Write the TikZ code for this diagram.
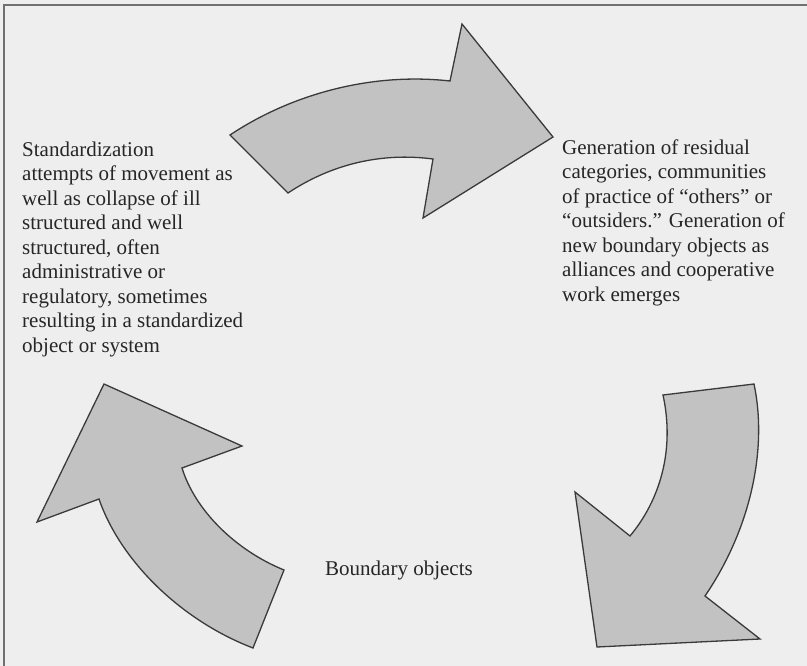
\documentclass[tikz,border=0pt]{standalone}
\usepackage{fontspec}
\setmainfont{Liberation Serif}
\usepackage{tikz}
\definecolor{paper}{HTML}{EEEEEE}
\definecolor{arrowfill}{HTML}{C2C2C2}
\definecolor{arrowline}{HTML}{3A3A3A}
\definecolor{frameline}{HTML}{707070}
\begin{document}
\begin{tikzpicture}[x=1pt, y=-1pt,
  bigarrow/.style={fill=arrowfill, draw=arrowline, line width=1.3pt, line join=miter},
  label/.style={inner sep=0pt, align=left, text=black!85,
    font=\fontsize{21}{24.5}\selectfont}]
  \fill[paper] (0,0) rectangle (807,666);
  \useasboundingbox (0,0) rectangle (807,666);
  \draw[frameline, line width=2pt] (4,666) -- (4,5) -- (807,5);
  \draw[bigarrow] (230,135) -- (288,193)
    .. controls (330,165) and (380,152) .. (433,159)
    -- (423,218) -- (553,137) -- (462,24) -- (450,81)
    .. controls (370,72) and (290,95) .. (230,135) -- cycle;
  \draw[bigarrow] (663,395) -- (754,384)
    .. controls (768,450) and (750,530) .. (705,596)
    -- (760,639) -- (597,647) -- (575,492) -- (630,536)
    .. controls (660,500) and (675,450) .. (663,395) -- cycle;
  \draw[bigarrow] (284,570) -- (253,648)
    .. controls (180,620) and (120,560) .. (99,499)
    -- (37,522) -- (104,384) -- (242,446) -- (182,468)
    .. controls (195,510) and (235,550) .. (284,570) -- cycle;
  \node[label, anchor=north west] (standard) at (22,141.5)
    {Standardization\\attempts of movement as\\well as collapse of ill\\
     structured and well\\structured, often\\administrative or\\
     regulatory, sometimes\\resulting in a standardized\\object or system};
  \node[label, anchor=north west] (residual) at (562,139.5)
    {Generation of residual\\categories, communities\\of practice of “others” or\\
     “outsiders.” Generation of\\new boundary objects as\\alliances and cooperative\\
     work emerges};
  \node[label, anchor=base west] (boundary) at (325,575) {Boundary objects};
\end{tikzpicture}
\end{document}
